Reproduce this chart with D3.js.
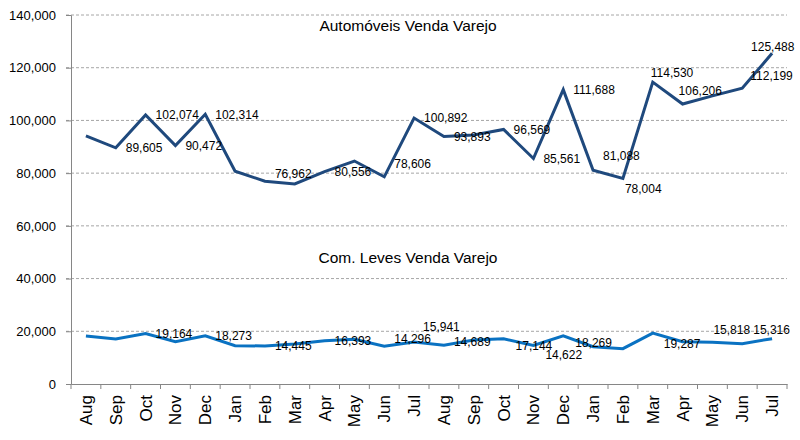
<!DOCTYPE html>
<html>
<head>
<meta charset="utf-8">
<script src="https://cdn.jsdelivr.net/npm/d3@7"></script>
<style>
  body { margin: 0; background: #fff; }
  text { font-family: "Liberation Sans", Arial, sans-serif; fill: #000; }
</style>
</head>
<body>
<div id="chart"></div>
<script>
// data
var months = ['Aug','Sep','Oct','Nov','Dec','Jan','Feb','Mar','Apr','May','Jun','Jul',
              'Aug','Sep','Oct','Nov','Dec','Jan','Feb','Mar','Apr','May','Jun','Jul'];

var autos = [94100, 89605, 102074, 90472, 102314, 80700, 76962, 75900, 80556, 84600, 78606, 100892,
             93893, 94500, 96569, 85561, 111688, 81088, 78004, 114530, 106206, 109300, 112199, 125488];

var leves = [18200, 17100, 19164, 16050, 18273, 14500, 14445, 15180, 16393, 16950, 14296, 15941,
             14689, 16700, 17144, 14622, 18269, 14170, 13400, 19287, 16050, 15818, 15316, 17200];

// which points carry a data label in the original
var autosLabeled = [0,1,1,1,1,0,1,0,1,0,1,1, 1,0,1,1,1,1,1,1,1,0,1,1];
var levesLabeled = [0,0,1,0,1,0,1,0,1,0,1,1, 1,0,1,1,1,0,0,1,0,1,1,0];

var yTicks = [0, 20000, 40000, 60000, 80000, 100000, 120000, 140000];

// label nudges (dx, dy) where Excel moved them off the default right position
var autosNudge = { 6: [10, -7], 10: [10, -13], 17: [10, -14],
                   18: [2, 10], 19: [-2, -9], 20: [-4, -13], 22: [8, -12], 23: [-21, -6] };
var levesNudge = { 10: [10, -8], 11: [9, -15], 12: [10, -3], 14: [12, 7], 15: [12, 9],
                   16: [12, 7], 19: [11, 11], 21: [1, -13], 22: [11, -14] };

var width = 800, height = 440;
var margin = {top: 15, right: 13, bottom: 56, left: 71};

document.addEventListener('DOMContentLoaded', function () {
  draw();
}, false);

function draw() {
  var svg = d3.select('#chart').append('svg')
    .attr('width', width)
    .attr('height', height);

  var x = d3.scaleBand()
    .domain(d3.range(months.length))
    .range([margin.left, width - margin.right]);

  var y = d3.scaleLinear()
    .domain([0, 140000])
    .range([height - margin.bottom, margin.top]);

  // gridlines
  svg.append('g')
    .selectAll('line')
    .data(yTicks.slice(1))
    .enter()
    .append('line')
    .attr('x1', margin.left - 5)
    .attr('x2', width - margin.right)
    .attr('y1', function(d){ return y(d); })
    .attr('y2', function(d){ return y(d); })
    .attr('stroke', '#a6a6a6')
    .attr('stroke-width', 1)
    .attr('stroke-dasharray', '3,2');

  // y axis
  var yAxis = svg.append('g')
    .attr('transform', 'translate(' + margin.left + ',0)')
    .call(d3.axisLeft(y).tickValues(yTicks).tickFormat(d3.format(',')).tickSize(5).tickPadding(10));
  yAxis.select('.domain').attr('stroke', '#868686');
  yAxis.selectAll('.tick line').attr('stroke', '#868686');
  yAxis.selectAll('text').style('font-size', '13px').attr('fill', '#000');

  // x axis
  var xAxis = svg.append('g')
    .attr('transform', 'translate(0,' + (height - margin.bottom) + ')')
    .call(d3.axisBottom(x).tickFormat(function(i){ return months[i]; }).tickSize(0).tickPadding(0));
  xAxis.select('.domain').attr('stroke', '#868686');
  xAxis.selectAll('.tick text')
    .style('font-size', '17px')
    .attr('fill', '#000')
    .attr('text-anchor', 'end')
    .attr('dy', '0.35em')
    .attr('transform', 'translate(0,11) rotate(-90)');

  // x tick marks at band boundaries
  xAxis.selectAll('line.bound')
    .data(d3.range(months.length + 1))
    .enter()
    .append('line')
    .attr('class', 'bound')
    .attr('x1', function(i){ return margin.left + i * x.step(); })
    .attr('x2', function(i){ return margin.left + i * x.step(); })
    .attr('y1', 0)
    .attr('y2', 5)
    .attr('stroke', '#868686');

  drawSeries(svg, autos, autosLabeled, autosNudge, '#1f497d', x, y);
  drawSeries(svg, leves, levesLabeled, levesNudge, '#0a72c2', x, y);

  // series titles
  svg.append('text')
    .attr('x', 408).attr('y', 31)
    .attr('text-anchor', 'middle')
    .style('font-size', '15.5px')
    .text('Automóveis Venda Varejo');

  svg.append('text')
    .attr('x', 408).attr('y', 263)
    .attr('text-anchor', 'middle')
    .style('font-size', '15.5px')
    .text('Com. Leves Venda Varejo');
}

function drawSeries(svg, values, labeled, nudge, color, x, y) {
  var pts = values.map(function(v, i){ return {v: v, i: i}; });
  var cx = function(d){ return x(d.i) + x.bandwidth() / 2; };

  var line = d3.line()
    .x(cx)
    .y(function(d){ return y(d.v); });

  svg.append('path')
    .datum(pts)
    .attr('d', line)
    .attr('fill', 'none')
    .attr('stroke', color)
    .attr('stroke-width', 3)
    .attr('stroke-linejoin', 'miter');

  svg.append('g')
    .selectAll('text')
    .data(pts.filter(function(d){ return labeled[d.i]; }))
    .enter()
    .append('text')
    .attr('x', function(d){
      var n = nudge[d.i] || [10, 0];
      return cx(d) + n[0];
    })
    .attr('y', function(d){
      var n = nudge[d.i] || [10, 0];
      return y(d.v) + n[1];
    })
    .attr('dy', '0.35em')
    .style('font-size', '12px')
    .text(function(d){ return d3.format(',')(d.v); });
}
</script>
</body>
</html>
